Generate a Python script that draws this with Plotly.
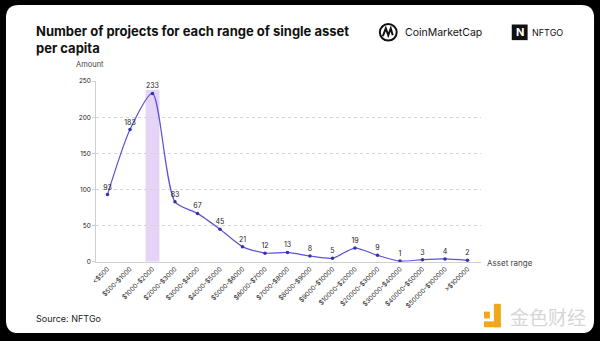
import plotly.graph_objects as go

categories = ["<$500", "$500-$1000", "$1000-$2000", "$2000-$3000", "$3000-$4000",
              "$4000-$5000", "$5000-$6000", "$6000-$7000", "$7000-$8000", "$8000-$9000",
              "$9000-$10000", "$10000-$20000", "$20000-$30000", "$30000-$40000",
              "$40000-$50000", "$50000-$100000", ">$100000"]
values = [93, 183, 233, 83, 67, 45, 21, 12, 13, 8, 5, 19, 9, 1, 3, 4, 2]
y_ticks = [0, 50, 100, 150, 200, 250]

W, H = 600, 341
def px(x):
    return x / W
def py(y):
    return 1 - y / H

xs = list(range(len(categories)))

fig = go.Figure()
fig.add_trace(go.Scatter(
    x=xs, y=values, mode="lines+markers+text",
    line=dict(color="#5b52d8", width=1.2, shape="spline", smoothing=0.7),
    marker=dict(color="#3530b0", size=3.5),
    text=[str(v) for v in values], textposition="top center",
    textfont=dict(family="Inter, sans-serif", size=7, color="#222"),
    cliponaxis=False, hoverinfo="skip", showlegend=False,
))

# card path
x0, x1, y0, y1 = px(1), px(594), py(1), py(337)
rx, ry = 13 / W, 13 / H
card = (f"M {x0+rx},{y0} L {x1-rx},{y0} Q {x1},{y0} {x1},{y0-ry} "
        f"L {x1},{y1+ry} Q {x1},{y1} {x1-rx},{y1} L {x0+rx},{y1} "
        f"Q {x0},{y1} {x0},{y1+ry} L {x0},{y0-ry} Q {x0},{y0} {x0+rx},{y0} Z")

shapes = [
    dict(type="path", path=card, xref="paper", yref="paper", fillcolor="white",
         line=dict(width=0), layer="below"),
    dict(type="rect", xref="x", yref="y", x0=1.69, x1=2.31, y0=0, y1=238,
         fillcolor="#e6d4f6", line=dict(width=0), layer="below"),
    # CoinMarketCap logo circle
    dict(type="circle", xref="paper", yref="paper", x0=px(378), x1=px(395),
         y0=py(37.5), y1=py(20.5), line=dict(color="#111", width=2)),
    dict(type="path", xref="paper", yref="paper",
         path=f"M {px(381)},{py(33)} L {px(384)},{py(25)} L {px(386.5)},{py(32)} L {px(389)},{py(25)} L {px(391)},{py(32)}",
         line=dict(color="#111", width=2)),
    # NFTGO logo box
    dict(type="rect", xref="paper", yref="paper", x0=px(511), x1=px(527),
         y0=py(37), y1=py(21), fillcolor="#111", line=dict(width=0)),
    # watermark icon
    dict(type="rect", xref="paper", yref="paper", x0=px(483), x1=px(489),
         y0=py(322), y1=py(315), fillcolor="#f0a818", line=dict(width=0)),
    dict(type="rect", xref="paper", yref="paper", x0=px(493), x1=px(500),
         y0=py(331), y1=py(307), fillcolor="#f0a818", line=dict(width=0)),
    dict(type="rect", xref="paper", yref="paper", x0=px(483), x1=px(500),
         y0=py(331), y1=py(325), fillcolor="#f0a818", line=dict(width=0)),
]

annotations = [
    dict(text="<b>Number of projects for each range of single asset<br>per capita</b>",
         xref="paper", yref="paper", x=px(29), y=py(17), xanchor="left", yanchor="top",
         align="left", showarrow=False,
         font=dict(family="Inter, sans-serif", size=13, color="#111")),
    dict(text="Amount", xref="paper", yref="paper", x=px(86), y=py(62),
         xanchor="center", yanchor="middle", showarrow=False,
         font=dict(family="Inter, sans-serif", size=7.5, color="#444")),
    dict(text="Asset range", xref="paper", yref="paper", x=px(484), y=py(265),
         xanchor="left", yanchor="middle", showarrow=False,
         font=dict(family="Inter, sans-serif", size=8, color="#444")),
    dict(text="Source: NFTGo", xref="paper", yref="paper", x=px(29), y=py(322),
         xanchor="left", yanchor="middle", showarrow=False,
         font=dict(family="Inter, sans-serif", size=9, color="#222")),
    dict(text="CoinMarketCap", xref="paper", yref="paper", x=px(401), y=py(29.5),
         xanchor="left", yanchor="middle", showarrow=False,
         font=dict(family="Inter, sans-serif", size=10.5, color="#111")),
    dict(text="<b>N</b>", xref="paper", yref="paper", x=px(519), y=py(29),
         xanchor="center", yanchor="middle", showarrow=False,
         font=dict(family="Inter, sans-serif", size=11, color="white")),
    dict(text="NFTGO", xref="paper", yref="paper", x=px(529), y=py(29.5),
         xanchor="left", yanchor="middle", showarrow=False,
         font=dict(family="Inter, sans-serif", size=9, color="#111")),
    dict(text="金色财经", xref="paper", yref="paper", x=px(507), y=py(320),
         xanchor="left", yanchor="middle", showarrow=False,
         font=dict(family="Noto Sans CJK SC", size=19, color="#d6d6d6")),
]

fig.update_layout(
    width=W, height=H, margin=dict(l=0, r=0, t=0, b=0),
    paper_bgcolor="black", plot_bgcolor="rgba(0,0,0,0)",
    shapes=shapes, annotations=annotations, showlegend=False,
    xaxis=dict(domain=[px(92), px(480)], range=[-0.5, 16.6],
               tickmode="array", tickvals=xs, ticktext=categories, tickangle=-45,
               tickfont=dict(family="Inter, sans-serif", size=6.5, color="#222"),
               showgrid=False, zeroline=False, showline=True, linecolor="#cfcfcf",
               linewidth=1, ticks="", fixedrange=True),
    yaxis=dict(domain=[py(264), py(79)], range=[0, 250],
               tickmode="array", tickvals=y_ticks,
               tickfont=dict(family="Inter, sans-serif", size=6.5, color="#222"),
               showgrid=True, gridcolor="#d4d4d4", griddash="dot", gridwidth=1,
               zeroline=False, showline=True, linecolor="#cfcfcf", linewidth=1,
               ticks="outside", ticklen=3, tickcolor="#cfcfcf", fixedrange=True),
)

fig.write_html("out.html")
